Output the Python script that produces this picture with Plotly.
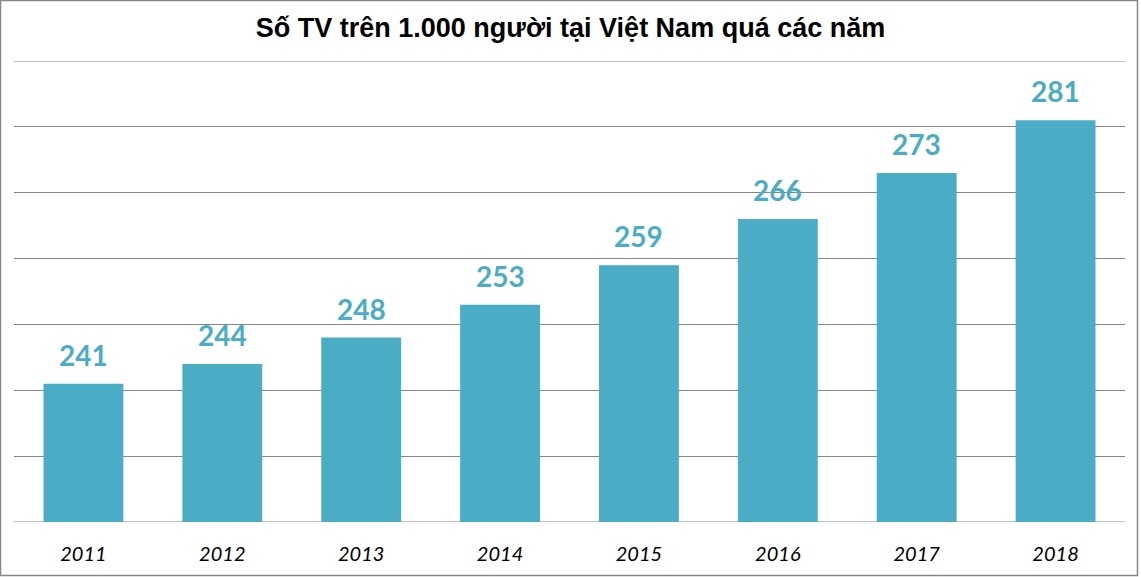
import plotly.graph_objects as go

years = ["2011", "2012", "2013", "2014", "2015", "2016", "2017", "2018"]
values = [241, 244, 248, 253, 259, 266, 273, 281]
y_min, y_max, y_step = 220, 290, 10

BAR = "#4BACC6"
GRID = "#868686"
W, H = 1141, 577
L, R, T, B = 14, 16, 61, 55
pw, ph = W - L - R, H - T - B

fig = go.Figure()
fig.add_trace(go.Bar(x=years, y=values, marker_color=BAR, marker_line_width=0,
                     width=0.575, hoverinfo="skip"))

for i, v in enumerate(values):
    fig.add_annotation(x=i, y=v, text=str(v), showarrow=False, yanchor="bottom",
                       yshift=10, font=dict(family="Lato", size=28, color=BAR, weight="bold"))

# edge gridlines (plotly drops grid lines that sit exactly on the plot-area edge)
for gy in (y_min, y_max):
    fig.add_hline(y=gy, line=dict(color=GRID, width=1), layer="below")

fig.add_shape(type="rect", xref="paper", yref="paper",
              x0=(0.5 - L) / pw, x1=(W - 3.5 - L) / pw,
              y0=(H - B - (H - 1.5)) / ph, y1=(H - B - 0.5) / ph,
              line=dict(color=GRID, width=1.5), fillcolor="rgba(0,0,0,0)", layer="below")

fig.update_layout(
    width=W, height=H,
    margin=dict(l=L, r=R, t=T, b=B, autoexpand=False),
    paper_bgcolor="white", plot_bgcolor="white",
    showlegend=False,
    title=dict(text="<b>Số TV trên 1.000 người tại Việt Nam quá các năm</b>",
               x=0.5, xanchor="center", y=1 - 28 / H, yanchor="middle",
               font=dict(family="Liberation Sans", size=27, color="black")),
    xaxis=dict(type="category", range=[-0.5, len(years) - 0.5], showgrid=False,
               showline=False, ticks="", ticklabelstandoff=18, automargin=False,
               tickfont=dict(family="Lato", size=20, color="black", style="italic")),
    yaxis=dict(range=[y_min, y_max], dtick=y_step, tick0=y_min, showticklabels=False,
               showgrid=True, gridcolor=GRID, gridwidth=1, zeroline=False,
               showline=False, automargin=False),
    bargap=0.425,
)

fig.write_html("out.html", config={"displayModeBar": False},
               post_script="document.body.style.margin='0';")
